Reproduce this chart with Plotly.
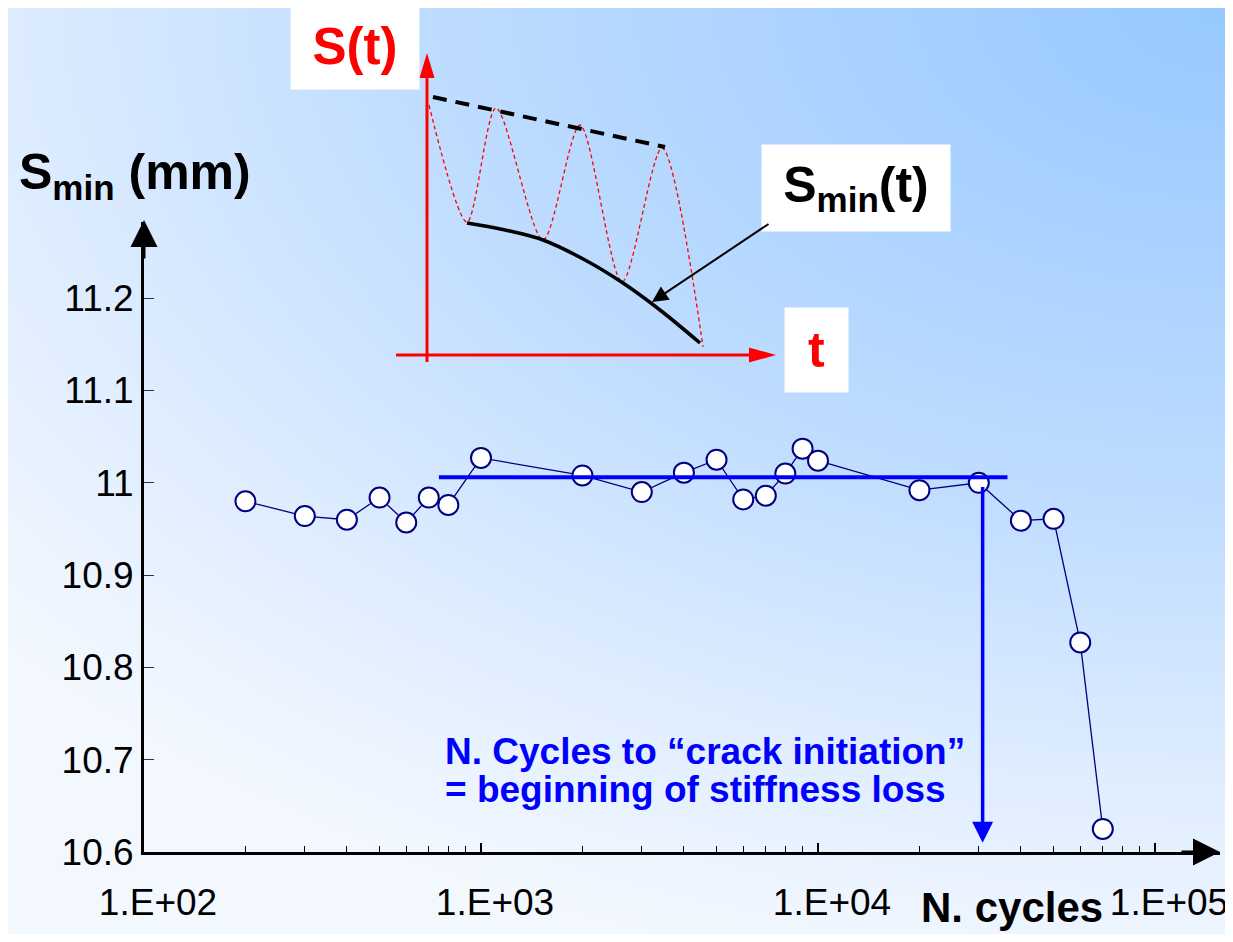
import base64
import math
import plotly.graph_objects as go

# ---------------- data ----------------
cycles = [200, 300, 400, 500, 600, 700, 800, 1000, 2000, 3000, 4000, 5000,
          6000, 7000, 8000, 9000, 10000, 20000, 30000, 40000, 50000, 60000, 70000]
s_min = [10.980, 10.964, 10.960, 10.984, 10.957, 10.984, 10.976, 11.027, 11.008,
         10.990, 11.011, 11.025, 10.982, 10.986, 11.010, 11.037, 11.024, 10.992,
         11.000, 10.959, 10.961, 10.827, 10.625]

plateau_cycles = [750, 36500]
plateau_s = [11.006, 11.006]
initiation_cycles = 30800
initiation_s_top = 10.997
initiation_s_tip = 10.610

x_tick_vals = [100, 1000, 10000, 100000]
x_tick_text = ["1.E+02", "1.E+03", "1.E+04", "1.E+05"]
x_minor_vals = [m * 10 ** e for e in (2, 3, 4) for m in range(2, 10)]
y_tick_vals = [10.6, 10.7, 10.8, 10.9, 11.0, 11.1, 11.2]
y_tick_text = ["10.6", "10.7", "10.8", "10.9", "11", "11.1", "11.2"]

# inset schematic, in sketch units (t, S)
env_t = [6, 238]
env_s = [258, 208]
wave_t = [2, 40, 69, 116, 153, 195, 235, 276]
wave_s = [250, 133, 247, 115, 230, 73, 207, 8]
smin_t = [40, 78, 116, 158, 196, 233, 273]
smin_s = [132, 125, 115, 95, 72, 45, 12]
s_axis_t = [0, 0]
s_axis_s = [-7, 280]
t_axis_t = [-31, 325]
t_axis_s = [0, 0]

# ---------------- layout helpers ----------------
# the page body adds an 8px margin, so the figure is laid out in page coordinates minus 8
OX, OY = 8, 8
W, H = 1225, 926
FONT = "Arial, Liberation Sans, sans-serif"
NAVY = "#000080"


def px(x):
    return (x - OX) / W


def py(y):
    return 1 - (y - OY) / H


bg_svg = f'''<svg xmlns="http://www.w3.org/2000/svg" width="{W}" height="{H}" viewBox="0 0 {W} {H}" preserveAspectRatio="none">
<defs><radialGradient id="g" gradientUnits="userSpaceOnUse" cx="{W}" cy="-8" r="1000"
 gradientTransform="translate({W} -8) scale(1.6 1) translate(-{W} 8)">
<stop offset="0" stop-color="rgb(150,200,255)"/>
<stop offset="0.5" stop-color="rgb(190,220,255)"/>
<stop offset="0.8" stop-color="rgb(225,238,255)"/>
<stop offset="1" stop-color="rgb(243,248,255)"/>
</radialGradient></defs><rect x="0" y="0" width="{W}" height="{H}" fill="url(#g)"/></svg>'''
bg_src = "data:image/svg+xml;base64," + base64.b64encode(bg_svg.encode()).decode()

fig = go.Figure()

# main data
fig.add_trace(go.Scatter(
    x=cycles, y=s_min, mode="lines+markers",
    line=dict(color=NAVY, width=1.3),
    marker=dict(size=20, color="white", line=dict(color=NAVY, width=2)),
    xaxis="x", yaxis="y", showlegend=False, cliponaxis=False))
fig.add_trace(go.Scatter(
    x=plateau_cycles, y=plateau_s, mode="lines",
    line=dict(color="#0000FF", width=4), xaxis="x", yaxis="y", showlegend=False))

# inset schematic
fig.add_trace(go.Scatter(x=wave_t, y=wave_s, mode="lines",
                         line=dict(color="#FF0000", width=1.3, dash="4px,3px", shape="spline", smoothing=0.8),
                         xaxis="x2", yaxis="y2", showlegend=False, cliponaxis=False))
fig.add_trace(go.Scatter(x=env_t, y=env_s, mode="lines",
                         line=dict(color="black", width=4, dash="14px,9px"),
                         xaxis="x2", yaxis="y2", showlegend=False, cliponaxis=False))
fig.add_trace(go.Scatter(x=smin_t, y=smin_s, mode="lines",
                         line=dict(color="black", width=3.5, shape="spline"),
                         xaxis="x2", yaxis="y2", showlegend=False, cliponaxis=False))
fig.add_trace(go.Scatter(x=s_axis_t, y=s_axis_s, mode="lines",
                         line=dict(color="#FF0000", width=3),
                         xaxis="x2", yaxis="y2", showlegend=False, cliponaxis=False))
fig.add_trace(go.Scatter(x=t_axis_t, y=t_axis_s, mode="lines",
                         line=dict(color="#FF0000", width=3),
                         xaxis="x2", yaxis="y2", showlegend=False, cliponaxis=False))

shapes = [
    dict(type="path", xref="x2", yref="y2", path="M0,302 L-7.5,277 L7.5,277 Z",
         fillcolor="#FF0000", line=dict(width=0)),
    dict(type="path", xref="x2", yref="y2", path="M349,0 L322,7.5 L322,-7.5 Z",
         fillcolor="#FF0000", line=dict(width=0)),
]

annotations = [
    # axis arrowheads
    dict(x=px(1220), y=py(852), xref="paper", yref="paper", ax=-40, ay=0, text="",
         showarrow=True, arrowhead=2, arrowsize=1.8, arrowwidth=3, arrowcolor="black"),
    dict(x=px(144), y=py(220), xref="paper", yref="paper", ax=0, ay=40, text="",
         showarrow=True, arrowhead=2, arrowsize=1.8, arrowwidth=3, arrowcolor="black"),
    # crack initiation arrow
    dict(x=math.log10(initiation_cycles), y=initiation_s_tip, xref="x", yref="y",
         ax=math.log10(initiation_cycles), ay=initiation_s_top, axref="x", ayref="y",
         text="", showarrow=True, arrowhead=2, arrowsize=1.2, arrowwidth=3.5, arrowcolor="#0000FF"),
    dict(x=px(443), y=py(751), xref="paper", yref="paper", xanchor="left", yanchor="middle",
         text="N. Cycles to \u201ccrack initiation\u201d", showarrow=False,
         font=dict(family=FONT, size=37, color="#0000FF", weight="bold")),
    dict(x=px(443), y=py(789), xref="paper", yref="paper", xanchor="left", yanchor="middle",
         text="= beginning of stiffness loss", showarrow=False,
         font=dict(family=FONT, size=37, color="#0000FF", weight="bold")),
    # axis titles
    dict(x=px(17), y=py(175), xref="paper", yref="paper", xanchor="left", yanchor="middle",
         text="S<sub>min</sub> (mm)", showarrow=False,
         font=dict(family=FONT, size=50, color="black", weight="bold")),
    dict(x=px(919), y=py(907), xref="paper", yref="paper", xanchor="left", yanchor="middle",
         text="N. cycles", showarrow=False,
         font=dict(family=FONT, size=42, color="black", weight="bold")),
    # inset labels
    dict(x=px(355), y=py(47), xref="paper", yref="paper", xanchor="center", yanchor="middle",
         text="S(t)", showarrow=False, bgcolor="white", width=128, height=85, borderpad=0,
         font=dict(family=FONT, size=51, color="#FF0000", weight="bold")),
    dict(x=px(856), y=py(188), xref="paper", yref="paper", xanchor="center", yanchor="middle",
         text="S<sub>min</sub>(t)", showarrow=False, bgcolor="white", width=188, height=86, borderpad=0,
         font=dict(family=FONT, size=50, color="black", weight="bold")),
    dict(x=px(816), y=py(350), xref="paper", yref="paper", xanchor="center", yanchor="middle",
         text="t", showarrow=False, bgcolor="white", width=63, height=84, borderpad=0,
         font=dict(family=FONT, size=50, color="#FF0000", weight="bold")),
    # inset pointer arrow
    dict(x=225, y=53, xref="x2", yref="y2", ax=343, ay=132, axref="x2", ayref="y2",
         text="", showarrow=True, arrowhead=2, arrowsize=1.6, arrowwidth=2, arrowcolor="black"),
]

fig.update_layout(
    width=W, height=H, autosize=False,
    margin=dict(l=0, r=0, t=0, b=0, pad=0),
    paper_bgcolor="rgb(215,232,255)",
    plot_bgcolor="rgba(0,0,0,0)",
    font=dict(family=FONT, color="black"),
    showlegend=False,
    images=[dict(source=bg_src, xref="paper", yref="paper", x=0, y=1, sizex=1, sizey=1,
                 xanchor="left", yanchor="top", sizing="stretch", layer="below")],
    xaxis=dict(type="log", domain=[px(144), px(1220)], range=[2, 2 + 1076 / 337],
               anchor="y", automargin=False, showline=True, linecolor="black", linewidth=3,
               showgrid=False, zeroline=False,
               tickmode="array", tickvals=x_tick_vals, ticktext=x_tick_text,
               ticks="inside", ticklen=9, tickwidth=1.5, tickcolor="black",
               minor=dict(tickmode="array", tickvals=x_minor_vals, ticks="inside", ticklen=6,
                          tickwidth=1.3, tickcolor="black", showgrid=False),
               tickfont=dict(family=FONT, size=37, color="black"),
               ticklabelstandoff=16, ticklabelshift=14),
    yaxis=dict(domain=[py(852), py(222)], range=[10.6, 10.6 + 630 / 923],
               anchor="x", automargin=False, showline=True, linecolor="black", linewidth=3,
               showgrid=False, zeroline=False,
               tickmode="array", tickvals=y_tick_vals, ticktext=y_tick_text,
               ticks="inside", ticklen=10, tickwidth=1.3, tickcolor="#333333",
               tickfont=dict(family=FONT, size=37, color="black"),
               ticklabelstandoff=0),
    xaxis2=dict(domain=[px(390), px(860)], range=[-37, 433], anchor="y2", visible=False,
                automargin=False),
    yaxis2=dict(domain=[py(400), py(8)], range=[-45, 347], anchor="x2", visible=False,
                automargin=False),
    shapes=shapes,
    annotations=annotations,
)

fig.write_html("out.html")
